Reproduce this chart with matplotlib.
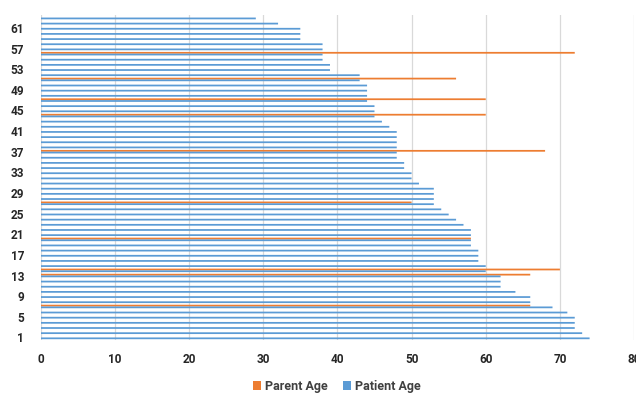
import matplotlib.pyplot as plt
import numpy as np

# ages per case, case 1 at the bottom
cases = list(range(1, 64))
patient_age = [74, 73, 72, 72, 72, 71, 69, 66, 66, 64,
               62, 62, 62, 60, 60, 59, 59, 59, 58, 58,
               58, 58, 57, 56, 55, 54, 53, 53, 53, 53,
               51, 50, 50, 49, 49, 48, 48, 48, 48, 48,
               48, 47, 46, 45, 45, 45, 44, 44, 44, 44,
               43, 43, 39, 39, 38, 38, 38, 38, 35, 35,
               35, 32, 29]
# parent age only known for a few cases
parent_cases = [7, 13, 14, 20, 27, 37, 44, 47, 51, 56]
parent_vals = [66, 66, 70, 58, 50, 68, 60, 60, 56, 72]
ytick_labels = list(range(1, 64, 4))

parent_age = np.full(len(cases), np.nan)
for c, v in zip(parent_cases, parent_vals):
    parent_age[c - 1] = v

orange = '#ED7D31'
blue = '#5B9BD5'

plt.rcParams['font.family'] = ['Roboto', 'DejaVu Sans']
plt.rcParams['font.weight'] = 'bold'

fig = plt.figure(figsize=(6.36, 3.94), dpi=100)
ax = fig.add_axes([0.064, 0.137, 0.933, 0.825])

y = np.array(cases, dtype=float)
h = 0.34
# snap off so the thin bars all come out the same thickness
ax.barh(y + h / 2, np.nan_to_num(parent_age), height=h, color=orange,
        label='Parent Age', zorder=3, snap=False, linewidth=0)
ax.barh(y - h / 2, patient_age, height=h, color=blue,
        label='Patient Age', zorder=3, snap=False, linewidth=0)

ax.set_xlim(0, 80)
ax.set_ylim(0.5, 63.5)
ax.set_xticks(range(0, 81, 10))
ax.set_yticks(ytick_labels)
ax.set_yticklabels([str(v) for v in ytick_labels])
ax.grid(axis='x', color='#D9D9D9', linewidth=0.9, zorder=0)
for s in ax.spines.values():
    s.set_visible(False)
ax.tick_params(axis='both', length=0, labelsize=8.5, colors='#262626')
ax.tick_params(axis='y', pad=12)
ax.tick_params(axis='x', pad=9)

fig.legend(loc='center', bbox_to_anchor=(337 / 636, 0.02), ncol=2,
           frameon=False, fontsize=9, handlelength=0.6, handleheight=0.7,
           columnspacing=1.2, handletextpad=0.35, labelcolor='#404040')

fig.savefig('out.png', dpi=100)
